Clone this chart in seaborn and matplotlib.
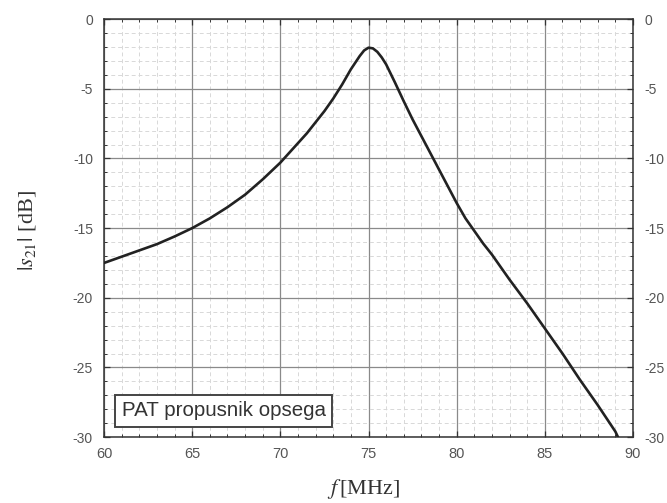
import matplotlib
matplotlib.use("Agg")
import matplotlib.pyplot as plt
import seaborn as sns
import numpy as np
import pandas as pd
from matplotlib.ticker import MultipleLocator

freq_mhz = [60, 61, 62, 63, 64, 65, 66, 67, 68, 69, 70, 70.5, 71, 71.5, 72,
            72.5, 73, 73.5, 74, 74.5, 74.75, 75, 75.25, 75.5, 75.75, 76, 76.5,
            77, 77.5, 78, 78.5, 79, 79.5, 80, 80.5, 81, 81.5, 82, 83, 84, 85,
            86, 87, 88, 89, 89.15]
s21_db = [-17.5, -17.05, -16.6, -16.15, -15.6, -15.0, -14.3, -13.5, -12.6,
          -11.5, -10.3, -9.6, -8.9, -8.2, -7.4, -6.6, -5.7, -4.7, -3.6, -2.65,
          -2.25, -2.05, -2.1, -2.35, -2.75, -3.25, -4.55, -5.9, -7.2, -8.4,
          -9.6, -10.8, -12.0, -13.2, -14.3, -15.2, -16.1, -16.9, -18.7, -20.4,
          -22.2, -24.0, -25.9, -27.7, -29.6, -30.0]
legend_label = "PAT propusnik opsega"
x_ticks = [60, 65, 70, 75, 80, 85, 90]
y_ticks = [-30, -25, -20, -15, -10, -5, 0]

sns.set_style("ticks")
plt.rcParams['font.family'] = ['Liberation Sans', 'DejaVu Sans']
plt.rcParams['mathtext.fontset'] = 'stix'
plt.rcParams['axes.unicode_minus'] = False

df = pd.DataFrame({"f": freq_mhz, "s21": s21_db})

fig = plt.figure(figsize=(6.67, 5.03), dpi=100)
ax = fig.add_axes([0.156, 0.131, 0.793, 0.831])

sns.lineplot(data=df, x="f", y="s21", ax=ax, color="#222222", linewidth=1.9,
             sort=False, zorder=5)

ax.set_xlim(60, 90)
ax.set_ylim(-30, 0)
ax.set_xticks(x_ticks)
ax.set_yticks(y_ticks)
ax.xaxis.set_minor_locator(MultipleLocator(1))
ax.yaxis.set_minor_locator(MultipleLocator(1))

ax.grid(which='major', color='#8a8a8a', linewidth=0.9, linestyle='-')
ax.grid(which='minor', color='#d8d8d8', linewidth=0.7, linestyle=(0, (4, 3)))
ax.set_axisbelow(True)

for sp in ax.spines.values():
    sp.set_visible(True)
    sp.set_color('#333333')
    sp.set_linewidth(1.1)

ax.tick_params(which='both', direction='in', top=True, right=True,
               labelright=True, colors='#333333', labelcolor='#555555')
ax.tick_params(which='major', length=4, width=0.9)
ax.tick_params(which='minor', length=2.5, width=0.7)
ax.tick_params(axis='x', labelsize=10.5, pad=7)
ax.tick_params(axis='y', labelsize=10, pad=8)

ax.set_xlabel(r"$f\,$[MHz]", fontsize=16, family='Liberation Serif',
              color='#333333')
ax.set_ylabel(r"$|s_{21}|$ [dB]", fontsize=16, family='Liberation Serif',
              color='#333333')
ax.xaxis.set_label_coords(0.491, -0.095)
ax.yaxis.set_label_coords(-0.125, 0.495)

ax.text(61.0, -28.1, legend_label, fontsize=14.8, color='#333333',
        va='center', ha='left', zorder=10,
        bbox=dict(boxstyle='square,pad=0.32', facecolor='white',
                  edgecolor='#444444', linewidth=1.4))

fig.savefig("out.png", dpi=100)
